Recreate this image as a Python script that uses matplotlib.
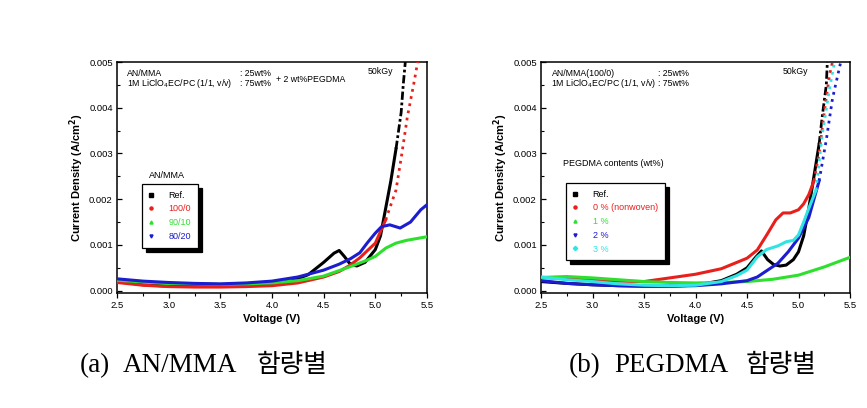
import matplotlib
matplotlib.use("Agg")
import matplotlib.pyplot as plt
from matplotlib.ticker import MultipleLocator, FormatStrFormatter

plt.rcParams['font.family'] = ['Liberation Sans', 'DejaVu Sans']

# ---------------- data: (a) AN/MMA ----------------
a_ref_v = [2.5, 2.75, 3.0, 3.25, 3.5, 3.75, 4.0, 4.2, 4.35, 4.5, 4.6, 4.65, 4.7, 4.75, 4.82, 4.9, 5.0, 5.05, 5.1, 5.15, 5.2, 5.25, 5.27, 5.29]
a_ref_j = [0.0002, 0.00013, 0.0001, 0.0001, 0.0001, 0.00011, 0.00014, 0.00022, 0.00035, 0.00062, 0.00082, 0.00088, 0.00075, 0.0006, 0.00054, 0.00062, 0.0009, 0.0012, 0.0018, 0.0024, 0.0031, 0.0039, 0.0045, 0.005]
a_100_v = [2.5, 2.75, 3.0, 3.25, 3.5, 3.75, 4.0, 4.25, 4.5, 4.65, 4.75, 4.85, 5.0, 5.1, 5.2, 5.25, 5.31, 5.37, 5.41]
a_100_j = [0.00018, 0.00012, 0.00009, 0.00008, 0.00008, 0.00009, 0.00011, 0.00017, 0.0003, 0.00042, 0.00055, 0.00072, 0.00104, 0.00155, 0.0022, 0.0029, 0.0038, 0.0045, 0.005]
a_90_v = [2.5, 2.75, 3.0, 3.25, 3.5, 3.75, 4.0, 4.25, 4.5, 4.75, 4.9, 5.0, 5.1, 5.2, 5.3, 5.4, 5.5]
a_90_j = [0.00023, 0.00019, 0.00016, 0.00015, 0.00014, 0.00015, 0.00017, 0.00022, 0.00032, 0.00052, 0.00065, 0.00075, 0.00093, 0.00104, 0.0011, 0.00114, 0.00118]
a_80_v = [2.5, 2.75, 3.0, 3.25, 3.5, 3.75, 4.0, 4.25, 4.5, 4.65, 4.76, 4.85, 4.92, 5.0, 5.06, 5.14, 5.24, 5.34, 5.44, 5.5]
a_80_j = [0.00026, 0.00021, 0.00018, 0.00016, 0.00015, 0.00017, 0.00021, 0.0003, 0.00045, 0.00058, 0.0007, 0.00083, 0.00104, 0.00126, 0.0014, 0.00144, 0.00137, 0.0015, 0.00177, 0.00188]
a_labels = ["Ref.", "100/0", "90/10", "80/20"]

# ---------------- data: (b) PEGDMA ----------------
b_ref_v = [2.5, 2.75, 3.0, 3.25, 3.5, 3.75, 4.0, 4.25, 4.4, 4.5, 4.58, 4.64, 4.7, 4.76, 4.82, 4.88, 4.95, 5.0, 5.05, 5.1, 5.15, 5.2, 5.23, 5.27, 5.28]
b_ref_j = [0.0002, 0.00016, 0.00013, 0.00011, 0.0001, 0.0001, 0.00012, 0.00022, 0.00036, 0.0005, 0.00072, 0.00087, 0.00068, 0.00057, 0.00054, 0.00056, 0.00068, 0.00085, 0.0012, 0.0018, 0.0025, 0.0032, 0.0038, 0.0045, 0.005]
b_0_v = [2.5, 2.75, 3.0, 3.25, 3.5, 3.75, 4.0, 4.25, 4.5, 4.6, 4.7, 4.78, 4.85, 4.92, 5.0, 5.05, 5.1, 5.15, 5.2, 5.25, 5.3, 5.33]
b_0_j = [0.00029, 0.00026, 0.00023, 0.00021, 0.0002, 0.00028, 0.00036, 0.00048, 0.00071, 0.00089, 0.00125, 0.00155, 0.0017, 0.0017, 0.00177, 0.0019, 0.0021, 0.0024, 0.003, 0.0039, 0.0047, 0.005]
b_1_v = [2.5, 2.75, 3.0, 3.25, 3.5, 3.75, 4.0, 4.25, 4.5, 4.75, 5.0, 5.25, 5.5]
b_1_j = [0.00029, 0.00031, 0.00028, 0.00024, 0.0002, 0.00018, 0.00017, 0.00018, 0.0002, 0.00025, 0.00034, 0.00052, 0.00073]
b_2_v = [2.5, 2.75, 3.0, 3.25, 3.5, 3.75, 4.0, 4.25, 4.5, 4.6, 4.7, 4.8, 4.9, 5.0, 5.1, 5.2, 5.27, 5.33, 5.41]
b_2_j = [0.00022, 0.00016, 0.00013, 0.00011, 0.0001, 0.0001, 0.00011, 0.00015, 0.00022, 0.0003, 0.00045, 0.0006, 0.00085, 0.00115, 0.0016, 0.0024, 0.0033, 0.0042, 0.005]
b_3_v = [2.5, 2.75, 3.0, 3.25, 3.5, 3.75, 4.0, 4.25, 4.4, 4.5, 4.6, 4.69, 4.8, 4.88, 4.95, 5.0, 5.05, 5.1, 5.17, 5.23, 5.3, 5.35]
b_3_j = [0.0003, 0.00024, 0.0002, 0.00015, 0.00012, 0.00011, 0.00012, 0.0002, 0.00033, 0.00045, 0.00074, 0.0009, 0.00098, 0.00107, 0.0011, 0.00122, 0.0015, 0.0018, 0.0022, 0.0034, 0.0044, 0.005]
b_labels = ["Ref.", "0 % (nonwoven)", "1 %", "2 %", "3 %"]

x_ticks = [2.5, 3.0, 3.5, 4.0, 4.5, 5.0, 5.5]
y_ticks = [0.000, 0.001, 0.002, 0.003, 0.004, 0.005]

caption_a = ["(a)", "AN/MMA", "함량별"]
caption_b = ["(b)", "PEGDMA", "함량별"]

# ---------------- style ----------------
C_BLACK = "#000000"
C_RED = "#e8201c"
C_GREEN = "#2ee02e"
C_BLUE = "#1c1cd0"
C_CYAN = "#30e4e4"
LW = 2.2

W, H = 867, 408
fig = plt.figure(figsize=(W / 100, H / 100), dpi=100)


def px_axes(x0, y0, x1, y1):
    return fig.add_axes([x0 / W, 1 - y1 / H, (x1 - x0) / W, (y1 - y0) / H])


def draw_curve(ax, v, j, color, split=None, tail_style=":"):
    if split is None:
        ax.plot(v, j, color=color, lw=LW, solid_capstyle="round", zorder=3)
        return
    k = next((i for i, val in enumerate(j) if val > split), len(j))
    ax.plot(v[:k], j[:k], color=color, lw=LW, zorder=3)
    ax.plot(v[k - 1:], j[k - 1:], color=color, lw=LW * 0.9, ls=tail_style, zorder=3)


def style_axes(ax):
    ax.set_xlim(2.5, 5.5)
    ax.set_ylim(-0.00005, 0.005)
    ax.set_xticks(x_ticks)
    ax.set_yticks(y_ticks)
    ax.xaxis.set_minor_locator(MultipleLocator(0.25))
    ax.yaxis.set_minor_locator(MultipleLocator(0.0005))
    ax.yaxis.set_major_formatter(FormatStrFormatter("%.3f"))
    ax.xaxis.set_major_formatter(FormatStrFormatter("%.1f"))
    ax.tick_params(axis="x", which="major", direction="out", length=3.5, width=0.9, labelsize=6.8, pad=2)
    ax.tick_params(axis="x", which="minor", direction="out", length=2, width=0.8)
    ax.tick_params(axis="y", which="major", direction="in", length=3.5, width=0.9, labelsize=6.8, pad=3)
    ax.tick_params(axis="y", which="minor", direction="in", length=2, width=0.8)
    for s in ax.spines.values():
        s.set_linewidth(1.1)
    ax.set_xlabel("Voltage (V)", fontsize=8, fontweight="bold", labelpad=3)
    ax.set_ylabel("Current Density (A/cm$^\\mathbf{2}$)", fontsize=8, fontweight="bold", labelpad=2)


def make_legend(ax, labels, colors, markers, anchor, title, title_xy):
    handles = [plt.Line2D([], [], ls="none", marker=m, color=c, markersize=2.2) for m, c in zip(markers, colors)]
    leg = ax.legend(handles, labels, loc="upper left", bbox_to_anchor=anchor, borderaxespad=0,
                    fontsize=6.5, frameon=True, fancybox=False, handlelength=0.6, handletextpad=1.6,
                    labelspacing=0.52, borderpad=0.75, labelcolor=colors,
                    shadow={"color": "black", "alpha": 1.0, "ox": 3, "oy": -3})
    leg.get_frame().set_edgecolor("black")
    leg.get_frame().set_linewidth(0.9)
    leg.set_zorder(5)
    ax.text(title_xy[0], title_xy[1], title, transform=ax.transAxes, fontsize=6.5, va="center", ha="left")
    return leg


# axes pixel box: top 62, bottom 293
Y0, Y1 = 62, 293
YSPAN = Y1 - Y0


def fy(py):
    return (Y1 - py) / YSPAN


# ---------------- (a) ----------------
ax1 = px_axes(117, Y0, 427, Y1)
draw_curve(ax1, a_ref_v, a_ref_j, C_BLACK, split=0.0034, tail_style=(0, (3, 1, 1, 1)))
draw_curve(ax1, a_100_v, a_100_j, C_RED, split=0.0021)
draw_curve(ax1, a_90_v, a_90_j, C_GREEN)
draw_curve(ax1, a_80_v, a_80_j, C_BLUE)
style_axes(ax1)
make_legend(ax1, a_labels, [C_BLACK, C_RED, C_GREEN, C_BLUE], ["s", "o", "^", "v"],
            ((142 - 117) / 310, fy(184)), "AN/MMA", ((149 - 117) / 310, fy(175)))

t = dict(transform=ax1.transAxes, fontsize=6.3, va="center", ha="left")
ax1.text(0.031, fy(73), "AN/MMA", **t)
ax1.text(0.031, fy(84), "1M LiClO$_4$EC/PC (1/1, v/v)", **t)
ax1.text(0.397, fy(73), ": 25wt%", **t)
ax1.text(0.397, fy(84), ": 75wt%", **t)
ax1.text(0.512, fy(79), "+ 2 wt%PEGDMA", **t)
ax1.text(0.81, fy(72), "50kGy", **t)

# ---------------- (b) ----------------
ax2 = px_axes(541, Y0, 850, Y1)
draw_curve(ax2, b_ref_v, b_ref_j, C_BLACK, split=0.0033, tail_style=(0, (3, 1, 1, 1)))
draw_curve(ax2, b_0_v, b_0_j, C_RED, split=0.0024)
draw_curve(ax2, b_1_v, b_1_j, C_GREEN)
draw_curve(ax2, b_2_v, b_2_j, C_BLUE, split=0.0025)
draw_curve(ax2, b_3_v, b_3_j, C_CYAN, split=0.0023)
style_axes(ax2)
make_legend(ax2, b_labels, [C_BLACK, C_RED, C_GREEN, C_BLUE, C_CYAN], ["s", "o", "^", "v", "D"],
            ((566 - 541) / 309, fy(183)), "PEGDMA contents (wt%)", ((563 - 541) / 309, fy(163)))

t = dict(transform=ax2.transAxes, fontsize=6.3, va="center", ha="left")
ax2.text(0.035, fy(73), "AN/MMA(100/0)", **t)
ax2.text(0.032, fy(84), "1M LiClO$_4$EC/PC (1/1, v/v)", **t)
ax2.text(0.379, fy(73), ": 25wt%", **t)
ax2.text(0.379, fy(84), ": 75wt%", **t)
ax2.text(0.783, fy(72), "50kGy", **t)

# ---------------- captions ----------------
lat = dict(fontsize=19.5, va="baseline", ha="left", family=["Liberation Serif", "Noto Sans CJK KR"])
kor = dict(fontsize=18.5, va="baseline", ha="left", family=["Noto Sans CJK KR", "DejaVu Sans"], fontweight="light")
yb = 1 - 372 / H
fig.text(80 / W, yb, caption_a[0], **lat)
fig.text(123 / W, yb, caption_a[1], **lat)
fig.text(257 / W, yb, caption_a[2], **kor)
fig.text(569 / W, yb, caption_b[0], **lat)
fig.text(614 / W, yb, caption_b[1], **lat)
fig.text(746 / W, yb, caption_b[2], **kor)

fig.savefig("out.png", dpi=100)
